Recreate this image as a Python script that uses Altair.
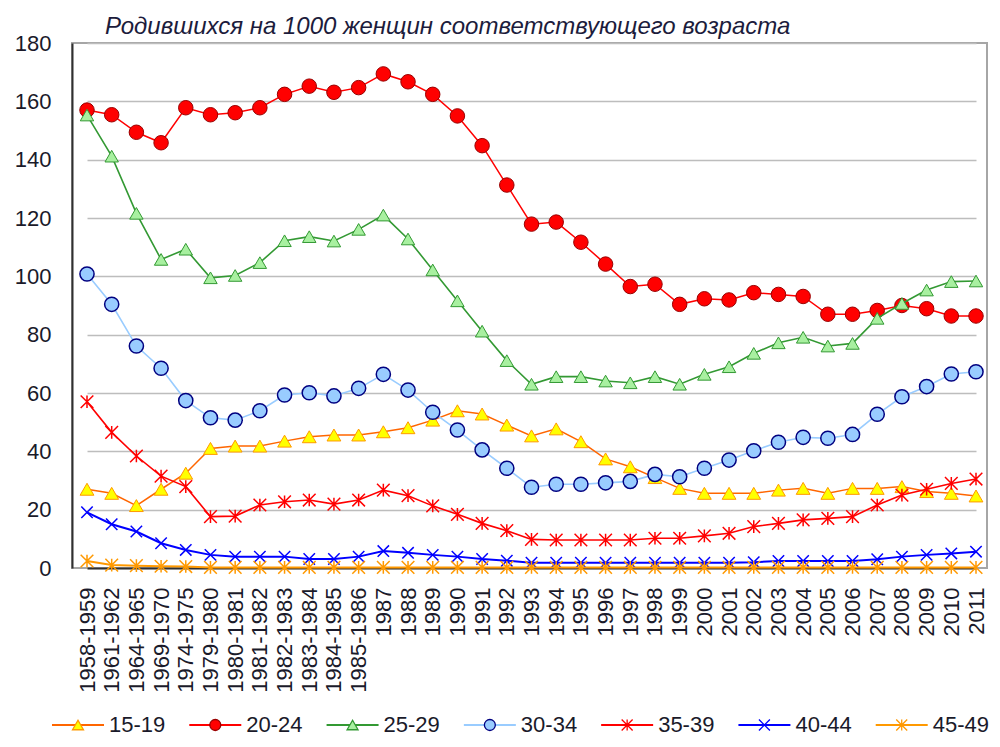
import altair as alt
import pandas as pd

# ---------------- data ----------------
categories = [
    "1958-1959", "1961-1962", "1964-1965", "1969-1970", "1974-1975",
    "1979-1980", "1980-1981", "1981-1982", "1982-1983", "1983-1984",
    "1984-1985", "1985-1986", "1987", "1988", "1989", "1990", "1991",
    "1992", "1993", "1994", "1995", "1996", "1997", "1998", "1999",
    "2000", "2001", "2002", "2003", "2004", "2005", "2006", "2007",
    "2008", "2009", "2010", "2011",
]

series = ["15-19", "20-24", "25-29", "30-34", "35-39", "40-44", "45-49"]

rate_15_19 = [27, 25.6, 21.4, 27, 32.5, 41, 41.8, 41.8, 43.5, 45, 45.6, 45.6,
              46.7, 48.1, 50.7, 53.9, 52.8, 49, 45.3, 47.7, 43.3, 37.4, 34.7,
              31, 27.3, 25.6, 25.6, 25.6, 26.7, 27.3, 25.6, 27.3, 27.3, 27.9,
              26.2, 25.6, 24.7]
rate_20_24 = [157, 155.4, 149.4, 145.8, 157.8, 155.4, 156.1, 157.8, 162.4, 165.2,
              163.1, 164.7, 169.4, 166.7, 162.4, 155, 144.8, 131.3, 117.9, 118.6,
              111.7, 104.2, 96.5, 97.3, 90.4, 92.3, 91.9, 94.4, 93.8, 93.1, 87,
              87, 88.3, 90, 88.9, 86.4, 86.4]
rate_25_29 = [155.3, 141.2, 121.6, 105.8, 109.3, 99.5, 100.3, 104.7, 112.2, 113.6,
              112.1, 116.1, 121, 112.8, 102.2, 91.6, 81.2, 71.1, 63, 65.6, 65.6,
              64.1, 63.5, 65.6, 63, 66.4, 69, 73.6, 77.2, 79.1, 76.1, 77, 85.6,
              90.7, 95.3, 98.2, 98.4]
rate_30_34 = [100.8, 90.4, 76.1, 68.5, 57.4, 51.5, 50.7, 53.9, 59.3, 60.1, 59,
              61.6, 66.4, 61, 53.4, 47.3, 40.5, 34.2, 27.7, 28.7, 28.7, 29.2,
              29.7, 32.1, 31.3, 34.2, 37, 40.2, 43.1, 44.8, 44.5, 45.8, 52.7,
              58.7, 62.2, 66.5, 67.3]
rate_35_39 = [57, 46.5, 38.4, 31.5, 27.9, 17.6, 17.8, 21.6, 22.7, 23.3, 21.9,
              23.3, 26.7, 24.8, 21.3, 18.4, 15.3, 12.8, 9.8, 9.6, 9.6, 9.6, 9.6,
              10.2, 10.2, 11, 11.9, 14.2, 15.3, 16.5, 17, 17.6, 21.6, 25, 27,
              29, 30.5]
rate_40_44 = [19.1, 15, 12.5, 8.5, 6.2, 4.5, 3.9, 3.9, 3.9, 3.1, 3.1, 3.9, 5.8,
              5.2, 4.5, 3.9, 3.1, 2.5, 1.8, 1.8, 1.8, 1.8, 1.8, 1.8, 1.8, 1.8,
              1.8, 2, 2.4, 2.4, 2.4, 2.4, 3, 3.9, 4.5, 5, 5.6]
rate_45_49 = [2.4, 1, 0.8, 0.6, 0.5, 0.2, 0.2, 0.2, 0.2, 0.2, 0.2, 0.2, 0.2,
              0.2, 0.2, 0.2, 0.2, 0.2, 0.2, 0.2, 0.2, 0.2, 0.2, 0.2, 0.2, 0.2,
              0.2, 0.2, 0.2, 0.2, 0.2, 0.2, 0.2, 0.2, 0.2, 0.2, 0.2]

all_rates = [rate_15_19, rate_20_24, rate_25_29, rate_30_34,
             rate_35_39, rate_40_44, rate_45_49]

rows = []
for s, vals in zip(series, all_rates):
    for c, v in zip(categories, vals):
        rows.append({"period": c, "series": s, "rate": v})
df = pd.DataFrame(rows)
leg_df = pd.DataFrame({"series": series})

# ---------------- styles ----------------
STAR = "M-1,-1L1,1M-1,1L1,-1M0,-1L0,1"
XMARK = "M-1,-1L1,1M-1,1L1,-1"
line_colors = ["#FF6600", "#FF0000", "#339933", "#99CCFF", "#FF0000", "#0000FF", "#FF9900"]
marker_fill = ["#FFFF00", "#FF0000", "#A8F0A0", "#99CCFF", "transparent", "transparent", "transparent"]
marker_stroke = ["#FF9900", "#990000", "#339933", "#000080", "#FF0000", "#0000FF", "#FF9900"]
marker_shape = ["triangle-up", "circle", "triangle-up", "circle", STAR, XMARK, STAR]
marker_filled = [True, True, True, True, False, False, False]
marker_size = [190, 210, 180, 200, 160, 130, 160]
marker_sw = [1, 1, 1, 1.5, 1.5, 1.5, 1.5]
line_w = [1.5, 1.5, 1.6, 1.6, 1.6, 2, 2]

TEXT = "#1a1a2a"
FONT = "Liberation Sans"
PLOT_W = 915
PLOT_H = 525

x_enc = alt.X(
    "period:N", sort=categories, title=None,
    scale=alt.Scale(type="point", domain=categories, range=[15, 904], padding=0),
    axis=alt.Axis(labelAngle=270, labelFontSize=22, labelPadding=19,
                  labelOverlap=False, labelLimit=300, ticks=False, tickSize=0,
                  grid=False, domainColor="#303030", domainWidth=2,
                  labelColor=TEXT, labelFont=FONT),
)
y_enc = alt.Y(
    "rate:Q", title=None,
    scale=alt.Scale(domain=[0, 180], nice=False, zero=True),
    axis=alt.Axis(values=[0, 20, 40, 60, 80, 100, 120, 140, 160, 180],
                  labelFontSize=22, labelPadding=21, ticks=False, tickSize=0,
                  grid=True, gridColor="#BDBDBD", gridWidth=1.5,
                  domainColor="#303030", domainWidth=2,
                  labelColor=TEXT, labelFont=FONT),
)

base = alt.Chart(df)
layers = []
for i, s in enumerate(series):
    b = base.transform_filter(alt.datum.series == s)
    layers.append(
        b.mark_line(color=line_colors[i], strokeWidth=line_w[i]).encode(x=x_enc, y=y_enc)
    )
    pt_kwargs = dict(shape=marker_shape[i], size=marker_size[i],
                     strokeWidth=marker_sw[i], stroke=marker_stroke[i], opacity=1)
    if marker_filled[i]:
        pt = b.mark_point(filled=True, fill=marker_fill[i], **pt_kwargs)
    else:
        pt = b.mark_point(filled=False, **pt_kwargs)
    layers.append(pt.encode(x=x_enc, y=y_enc))

main = alt.layer(*layers)

# ---------------- legend (bottom, line + marker samples) ----------------
lx = alt.X("series:N", sort=series, title=None,
           scale=alt.Scale(type="band", domain=series, range=[-20, 941],
                           paddingInner=0, paddingOuter=0),
           bandPosition=0, axis=None)
leg_y = alt.value(682)

leg_line = alt.Chart(leg_df).mark_point(
    shape="stroke", size=52 * 52, strokeWidth=2, xOffset=26, filled=False, opacity=1
).encode(
    x=lx, y=leg_y,
    color=alt.Color("series:N", scale=alt.Scale(domain=series, range=line_colors), legend=None),
)
leg_mark = alt.Chart(leg_df).mark_point(
    size=120, strokeWidth=1.3, xOffset=26, opacity=1, filled=False
).encode(
    x=lx, y=leg_y,
    shape=alt.Shape("series:N", scale=alt.Scale(domain=series, range=marker_shape), legend=None),
    fill=alt.Fill("series:N", scale=alt.Scale(domain=series, range=marker_fill), legend=None),
    stroke=alt.Stroke("series:N", scale=alt.Scale(domain=series, range=marker_stroke), legend=None),
)
leg_text = alt.Chart(leg_df).mark_text(
    align="left", baseline="middle", xOffset=57, fontSize=22, font=FONT, color=TEXT
).encode(x=lx, y=leg_y, text="series:N")

legend = alt.layer(leg_line, leg_mark, leg_text)

chart = (
    alt.layer(main, legend)
    .resolve_scale(x="independent")
    .properties(
        width=PLOT_W, height=PLOT_H,
        padding={"left": 6, "top": 7, "right": 0, "bottom": 0},
        title=alt.TitleParams(
            text="Родившихся на 1000 женщин соответствующего возраста",
            anchor="start", frame="group", dx=33, offset=-7,
            fontSize=24, font=FONT, fontStyle="italic", fontWeight="normal",
            color="#1c1c3c",
        ),
    )
    .configure_view(stroke="#A6A6A6", strokeWidth=2)
)

chart.save("out.html", embed_options={"renderer": "svg", "actions": False})
